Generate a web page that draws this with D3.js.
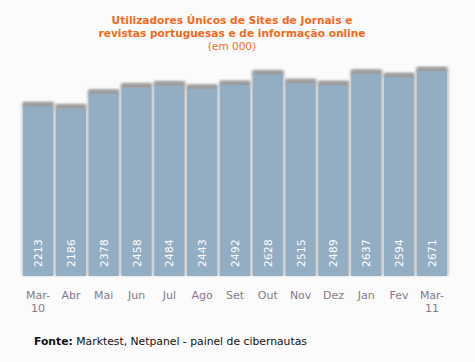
<!DOCTYPE html>
<html>
<head>
<meta charset="utf-8">
<script src="https://cdn.jsdelivr.net/npm/d3@7"></script>
<style>
  body { margin: 0; background: #fbfbfb; }
  svg { display: block; font-family: "DejaVu Sans", Verdana, sans-serif; }
</style>
</head>
<body>
<svg width="475" height="362"></svg>
<script>
var months = ["Mar-10","Abr","Mai","Jun","Jul","Ago","Set","Out","Nov","Dez","Jan","Fev","Mar-11"];
var users = [2213,2186,2378,2458,2484,2443,2492,2628,2515,2489,2637,2594,2671];
var titleLines = ["Utilizadores Únicos de Sites de Jornais e","revistas portuguesas e de informação online"];

var svg = d3.select("svg");
svg.append("rect").attr("width",475).attr("height",362).attr("fill","#fbfbfb");

var defs = svg.append("defs");
defs.append("filter").attr("id","soft").attr("x","-20%").attr("y","-20%").attr("width","140%").attr("height","140%")
    .append("feGaussianBlur").attr("stdDeviation",0.9);

var x = d3.scaleBand().domain(months).range([23,447]).paddingInner(0.08);
var y = d3.scaleLinear().domain([0,3600]).range([276,0]);

// title
var t = svg.append("text").attr("text-anchor","middle").attr("fill","#f26b1d");
t.selectAll("tspan").data(titleLines).enter().append("tspan")
  .attr("x",232).attr("y",(d,i)=>24+i*13)
  .attr("font-weight","bold").attr("font-size",10.6)
  .text(d=>d);
svg.append("text").attr("x",232).attr("y",50).attr("text-anchor","middle")
  .attr("fill","#f26b1d").attr("font-size",10.5).text("(em 000)");

var bars = svg.append("g").selectAll("g").data(users).enter().append("g");
// soft light shadow round the bar
bars.append("rect")
  .attr("x",(d,i)=>x(months[i])-1.5)
  .attr("y",d=>y(d)-5)
  .attr("width",x.bandwidth()+3.5)
  .attr("height",d=>276-y(d)+5)
  .attr("rx",3)
  .attr("fill","#cdcdcd")
  .attr("filter","url(#soft)");
// darker top edge
bars.append("rect")
  .attr("x",(d,i)=>x(months[i]))
  .attr("y",d=>y(d)-4)
  .attr("width",x.bandwidth())
  .attr("height",6)
  .attr("rx",2)
  .attr("fill","#9c9c9c")
  .attr("filter","url(#soft)");
bars.append("rect")
  .attr("x",(d,i)=>x(months[i]))
  .attr("y",d=>y(d))
  .attr("width",x.bandwidth())
  .attr("height",d=>276-y(d))
  .attr("fill","#93adc3");

bars.append("text")
  .attr("transform",(d,i)=>"translate("+(x(months[i])+x.bandwidth()/2+4)+",267) rotate(-90)")
  .attr("fill","#fff").attr("font-size",10.5).attr("letter-spacing",0.3)
  .text(d=>d);

// month labels
var lab = svg.append("g").selectAll("text").data(months).enter().append("text")
  .attr("text-anchor","middle").attr("fill","#857a8a").attr("font-size",11);
lab.each(function(d){
  var parts = d.split("-");
  var el = d3.select(this);
  var cx = x(d)+x.bandwidth()/2;
  if (parts.length>1) {
    el.append("tspan").attr("x",cx).attr("y",299).text(parts[0]+"-");
    el.append("tspan").attr("x",cx).attr("y",312).text(parts[1]);
  } else {
    el.append("tspan").attr("x",cx).attr("y",299).text(d);
  }
});

var f = svg.append("text").attr("x",34).attr("y",345).attr("fill","#111").attr("font-size",10.8);
f.append("tspan").attr("font-weight","bold").text("Fonte:");
f.append("tspan").text(" Marktest, Netpanel - painel de cibernautas");
</script>
</body>
</html>
